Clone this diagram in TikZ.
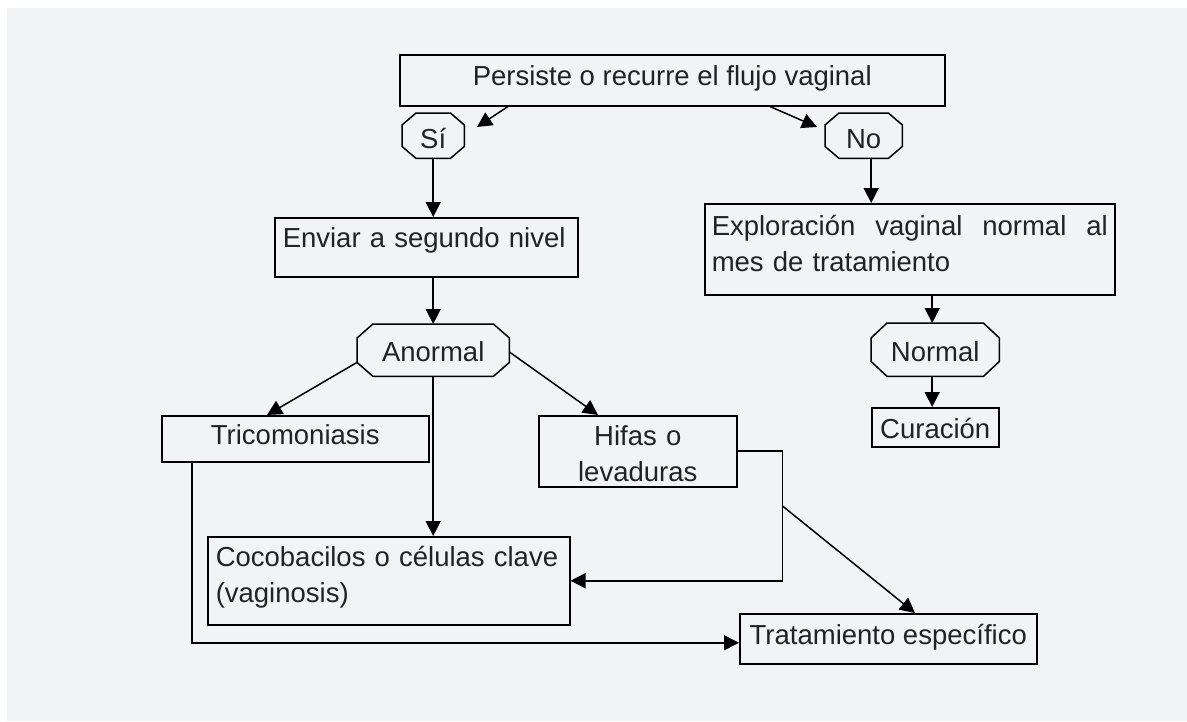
\documentclass[tikz,border=0pt]{standalone}
\usepackage{fontspec}
\setmainfont{Liberation Sans}
\usetikzlibrary{arrows.meta}
\definecolor{bggray}{RGB}{242,243,245}
\definecolor{txtc}{RGB}{34,34,34}
\newcommand\fsz{\fontsize{27.5pt}{35.5pt}\selectfont}
\tikzset{
  box/.style={draw=black, line width=1.5pt, rectangle, inner sep=0pt, anchor=north west, font=\fsz, text=txtc},
  octbox/.style={rectangle, inner sep=0pt, anchor=north west, font=\fsz, text=txtc},
  octline/.style={draw=black, line width=1.5pt, line join=miter},
  arr/.style={draw=black, line width=1.5pt, -{Triangle[length=15pt,width=15pt]}}
}
\begin{document}
\begin{tikzpicture}[x=1pt,y=-1pt]
\useasboundingbox (0,0) rectangle (1187,721);
\fill[white] (0,0) rectangle (1187,721);
\fill[bggray] (7,8) rectangle (1187,721);

% boxes
\node[box, minimum width=545pt, text height=31pt, text depth=20pt] (top) at (399,54) {Persiste o recurre el flujo vaginal};
\node[octbox, minimum width=62pt, text height=35pt, text depth=10pt] (si) at (402,113) {Sí};
\node[octbox, minimum width=77pt, text height=35pt, text depth=10pt] (no) at (825,113) {No};
\node[box, inner xsep=8pt, text width=287pt, align=left, text height=30pt, text depth=29pt] (env) at (274,217) {Enviar a segundo nivel};
\node[box, inner xsep=7pt, text width=396pt, align=left, text height=32pt, text depth=59pt] (expl) at (704,203) {\hbox to 396pt{Exploración\hfill vaginal\hfill normal\hfill al}\\mes de tratamiento};
\node[octbox, minimum width=152pt, text height=37pt, text depth=15pt] (anor) at (357,324) {Anormal};
\node[octbox, minimum width=128pt, text height=38pt, text depth=15pt] (norm) at (871,323) {Normal};
\node[box, minimum width=127pt, text height=31pt, text depth=8pt] (cur) at (871,407) {Curación};
\node[box, minimum width=267pt, text height=29pt, text depth=17pt] (tric) at (161,415) {Tricomoniasis};
\node[box, inner xsep=9pt, text width=180pt, align=center, text height=30pt, text depth=41pt] (hifas) at (538,415) {Hifas o\\levaduras};
\node[box, inner xsep=8pt, text width=346pt, align=left, text height=30pt, text depth=58pt] (coco) at (207,536) {Cocobacilos o células clave\\(vaginosis)};
\node[box, minimum width=297pt, text height=31pt, text depth=19pt] (trat) at (739,613) {Tratamiento específico};

% octagon outlines
\foreach \n/\cx/\cy in {si/14/12, no/14/12, anor/16/14, norm/16/15}{
  \draw[octline] ([xshift=\cx pt]\n.north west) -- ([xshift=-\cx pt]\n.north east)
    -- ([yshift=-\cy pt]\n.north east) -- ([yshift=\cy pt]\n.south east)
    -- ([xshift=-\cx pt]\n.south east) -- ([xshift=\cx pt]\n.south west)
    -- ([yshift=\cy pt]\n.south west) -- ([yshift=-\cy pt]\n.north west) -- cycle;
}

% free arrow ends
\coordinate (siTip) at (477,127);
\coordinate (noTip) at (817,127);

% connectors
\draw[arr] ([xshift=109pt]top.south west) -- (siTip);
\draw[arr] ([xshift=371pt]top.south west) -- (noTip);
\draw[arr] (si.south) -- (si.south |- env.north);
\draw[arr] ([xshift=7.5pt]no.south) -- ([xshift=7.5pt]no.south |- expl.north);
\draw[arr] (anor.north |- env.south) -- (anor.north);
\draw[arr] ([xshift=-3pt]norm.north |- expl.south) -- ([xshift=-3pt]norm.north);
\draw[arr] ([xshift=-3pt]norm.south) -- ([xshift=-3pt]norm.south |- cur.north);
\draw[arr] ([yshift=14pt]anor.south west) -- ([xshift=106pt]tric.north west);
\draw[arr] ([yshift=-28pt]anor.north east) -- ([xshift=60pt]hifas.north west);
\draw[arr] (anor.south) -- (anor.south |- coco.north);
\draw[arr] ([yshift=-36pt]hifas.north east) -- ++(45pt,0pt) |- (coco.east);
\draw[arr] ([xshift=45pt,yshift=-91pt]hifas.north east) -- ([xshift=176pt]trat.north west);
\draw[arr] ([xshift=31pt]tric.south west) |- ([yshift=-4pt]trat.west);
\end{tikzpicture}
\end{document}
